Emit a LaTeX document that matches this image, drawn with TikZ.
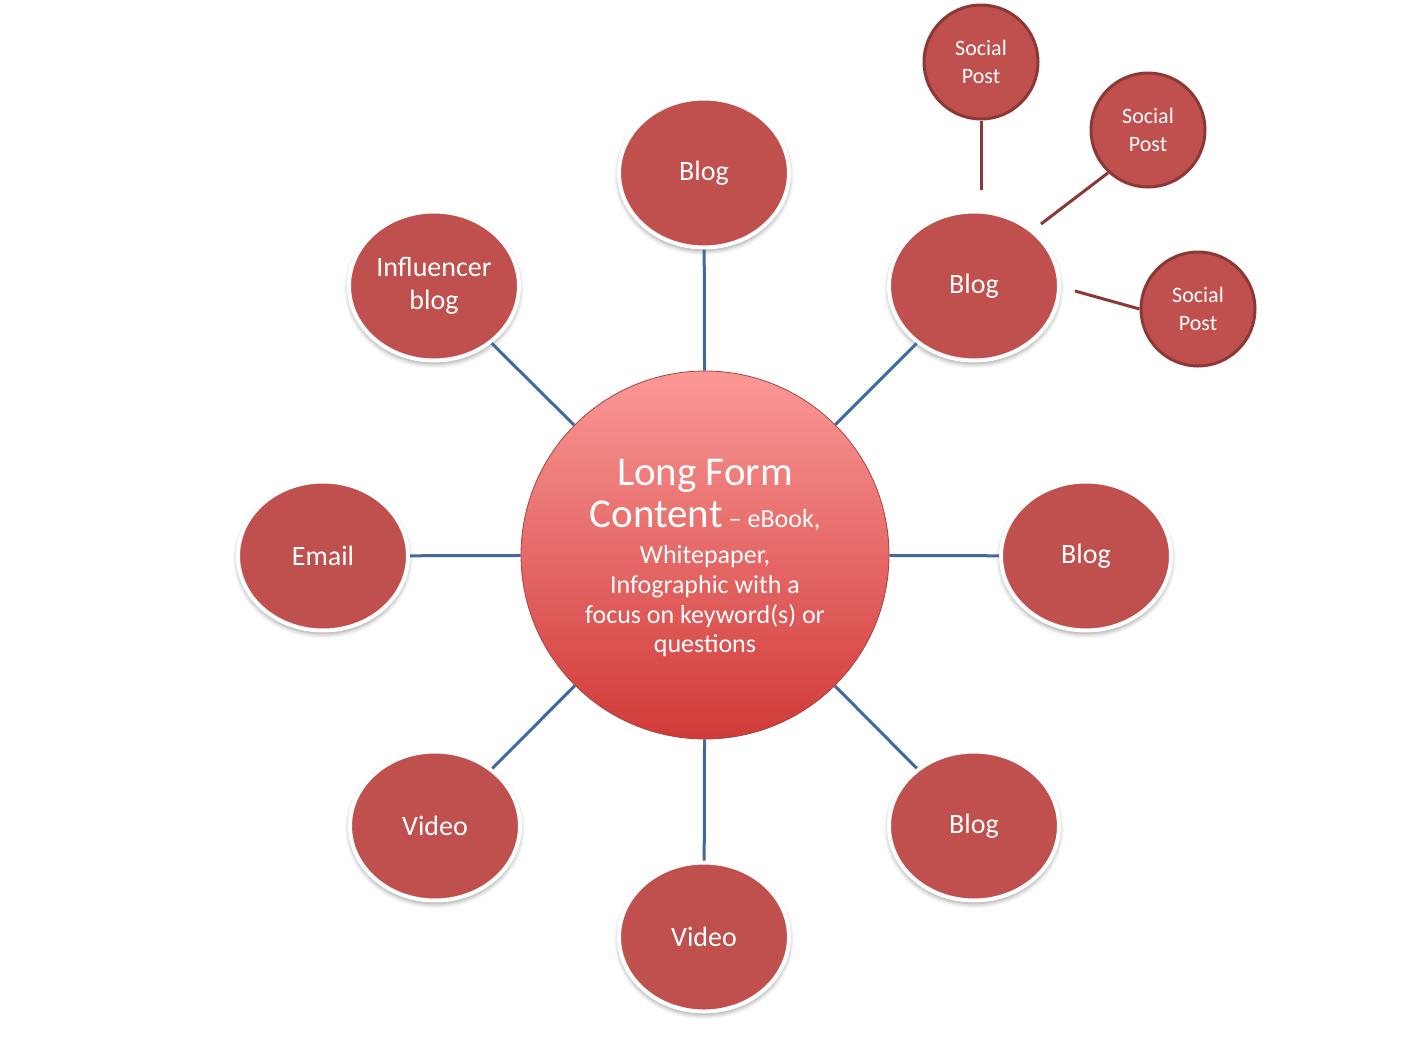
\documentclass[tikz,border=0pt]{standalone}
\usepackage{fontspec}
\setmainfont{Carlito}
\usetikzlibrary{shapes.geometric,shadows.blur}
\definecolor{nodered}{RGB}{192,80,77}
\definecolor{darkred}{RGB}{140,56,54}
\definecolor{linkblue}{RGB}{65,105,158}
\definecolor{ctop}{RGB}{250,152,150}
\definecolor{cbot}{RGB}{208,58,56}
\begin{document}
\begin{tikzpicture}[x=1pt,y=-1pt,
 outer/.style={ellipse, fill=nodered, draw=white, line width=4pt, minimum width=170pt, minimum height=149pt, inner sep=0pt, text=white, align=center, font=\fontsize{28}{33}\selectfont, blur shadow={shadow xshift=0pt, shadow yshift=-3pt, shadow blur radius=5pt, shadow opacity=45}},
 social/.style={circle, fill=nodered, draw=darkred, line width=3pt, minimum size=114pt, inner sep=0pt, text=white, align=center, font=\fontsize{22}{28}\selectfont},
 hub/.style={circle, minimum size=368pt, inner sep=0pt, top color=ctop, bottom color=cbot, draw=nodered!85!black, line width=0.8pt},
 blueline/.style={draw=linkblue, line width=3pt},
 redline/.style={draw=darkred, line width=3pt},
 bigtxt/.style={text=white, anchor=base, font=\fontsize{41}{44}\selectfont},
 smalltxt/.style={text=white, anchor=base, font=\fontsize{26}{30}\selectfont}
]
\useasboundingbox (0,0) rectangle (1409,1053);

\node[hub] (hub) at (705,555) {};
\node[bigtxt] (t1) at (705,485) {Long Form};
\node[bigtxt] (t2) at (705,527) {Content{\fontsize{26}{30}\selectfont\ – eBook,}};
\node[smalltxt] (t3) at (705,563) {Whitepaper,};
\node[smalltxt] (t4) at (705,593) {Infographic with a};
\node[smalltxt] (t5) at (705,623) {focus on keyword(s) or};
\node[smalltxt] (t6) at (705,652) {questions};

\node[outer] (blogT) at (704,173) {Blog};
\node[outer] (infl) at (434,286) {Influencer\\blog};
\node[outer] (blogTR) at (974,286) {Blog};
\node[outer] (email) at (323,556) {Email};
\node[outer] (blogR) at (1086,556) {Blog};
\node[outer] (videoBL) at (435,826) {Video};
\node[outer] (blogBR) at (974,826) {Blog};
\node[outer] (videoB) at (704,937) {Video};

\node[social] (sp1) at (981,62) {Social\\Post};
\node[social] (sp2) at (1148,130) {Social\\Post};
\node[social] (sp3) at (1198,309) {Social\\Post};

\draw[blueline] (hub) -- (blogT);
\draw[blueline] (hub) -- (infl);
\draw[blueline] (hub) -- (blogTR);
\draw[blueline] (hub) -- (email);
\draw[blueline] (hub) -- (blogR);
\draw[blueline] (hub) -- (videoBL);
\draw[blueline] (hub) -- (blogBR);
\draw[blueline] (hub) -- (videoB);

\draw[redline, shorten >=20pt] (sp1.south) -- (sp1.south |- blogTR.north);
\coordinate (e2) at (1041,224);
\coordinate (e3) at (1075,291);
\draw[redline] (sp2.227) -- (e2);
\draw[redline] (sp3.west) -- (e3);
\end{tikzpicture}
\end{document}
